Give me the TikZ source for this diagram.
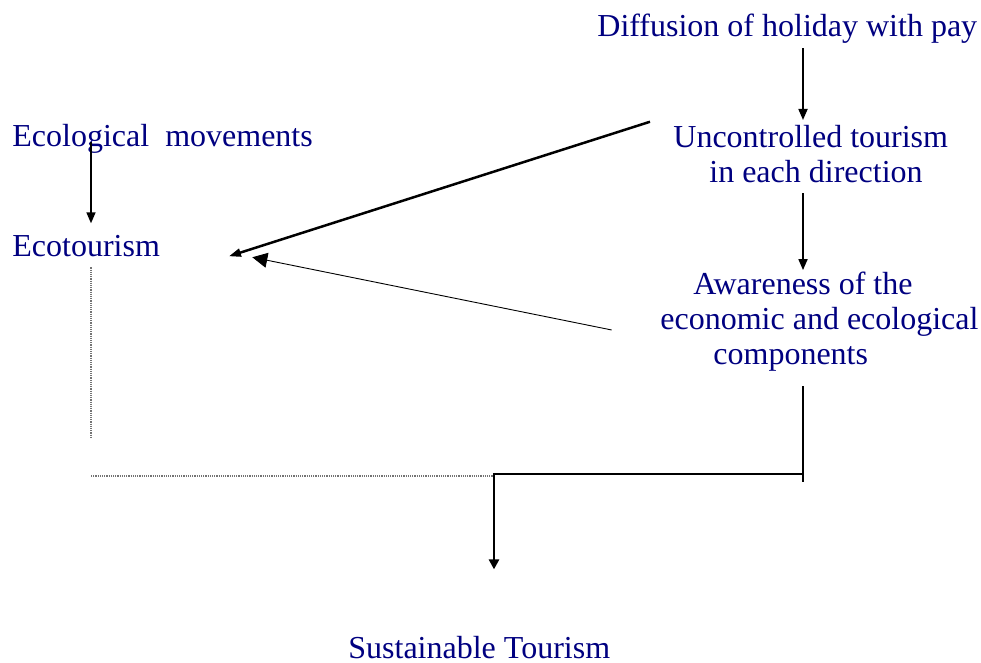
\documentclass[tikz,border=0pt]{standalone}
\usepackage{fontspec}
\setmainfont{Liberation Serif}
\usepackage{tikz}
\usetikzlibrary{calc}
\usetikzlibrary{arrows.meta}
\definecolor{navy}{RGB}{0,0,128}

\begin{document}
\begin{tikzpicture}[x=0.5pt,y=-0.5pt]
\tikzstyle{txt}=[inner sep=0pt,text=navy,font=\fontsize{16}{17.5}\selectfont,align=left]
\tikzstyle{arr}=[-{Triangle[length=5.5pt,width=4.5pt]},line width=0.85pt]
\tikzstyle{dots}=[draw=black!55,line width=0.6pt,dash pattern=on 0.6pt off 0.5pt]
\useasboundingbox (0,0) rectangle (981,663);
\node[txt,anchor=base west] at(597, 37) (diff) {Diffusion of holiday with pay};
\node[txt,anchor=north west] at(673, 124.8) (unc) {Uncontrolled tourism\\
                                                  \hspace*{18pt}in each direction};
\node[txt,anchor=north west] at(660, 271.1) (aware) {\hspace*{16.5pt}Awareness of the\\
                                                    economic and ecological\\
                                                    \hspace*{26.5pt}components};
\node[txt,anchor=base west] at(12, 146.7) (ecom) {Ecological\ \ movements};
\node[txt,anchor=base west] at(12, 256.7) (ecot) {Ecotourism};
\node[txt,anchor=base west] at(348, 658) (sust) {Sustainable Tourism};
\coordinate (rail) at (803, 482);
\coordinate (bend) at (494, 474);
\coordinate (dotend) at (91, 438);
\coordinate (dotleft) at (91, 476);
\draw[arr,shorten <=2pt,shorten >=2.4pt] (diff.south -| rail) -- (unc.north -| rail);
\draw[arr,shorten <=5pt,shorten >=0.5pt] (unc.south -| rail) -- (aware.north -| rail);
\draw[arr,shorten <=-2.35pt,shorten >=5.9pt] (ecom.base -| dotend) -- (ecot.north -| dotend);
\draw[-{Triangle[length=6pt,width=4pt]},line width=1.25pt] ([xshift=-11.5pt,yshift=16.1pt]unc.west) -- ([xshift=34.3pt,yshift=-5pt]ecot.east);
\draw[-{Triangle[length=7.5pt,width=7.5pt]},line width=0.45pt] ([xshift=-24.2pt,yshift=-4.4pt]aware.west) -- ([xshift=46pt,yshift=-5.5pt]ecot.east);
\draw[dots,shorten <=5pt] (ecot.south -| dotend) -- (dotend);
\draw[dots] (dotleft) -- (dotleft -| bend);
\draw[line width=1.35pt,shorten <=7.5pt] (aware.south -| rail) -- (rail);
\draw[line width=1.35pt,-{Triangle[length=5pt,width=5pt]},shorten >=33pt] (bend -| rail) -- (bend) -- (sust.north -| bend);
\end{tikzpicture}
\end{document}
